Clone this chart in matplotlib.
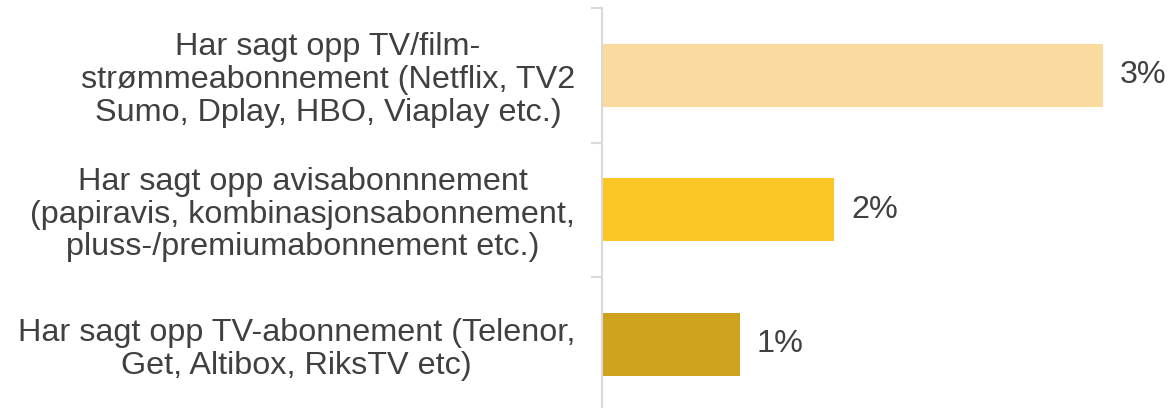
import numpy as np
import matplotlib.pyplot as plt

plt.rcParams['font.family'] = ['Liberation Sans', 'DejaVu Sans']

categories = [
    "Har sagt opp TV/film-\nstrømmeabonnement (Netflix, TV2\nSumo, Dplay, HBO, Viaplay etc.)",
    "Har sagt opp avisabonnnement\n(papiravis, kombinasjonsabonnement,\npluss-/premiumabonnement etc.)",
    "Har sagt opp TV-abonnement (Telenor,\nGet, Altibox, RiksTV etc)",
]
values = [3.3, 1.53, 0.91]
value_labels = ["3%", "2%", "1%"]
colors = ["#FADA9E", "#F9C623", "#CFA21E"]

text_color = "#404040"
axis_color = "#D9D9D9"
fs = 23.3

fig = plt.figure(figsize=(11.72, 4.08), dpi=100)
ax = fig.add_axes([0.5137, -0.0086, 0.4863, 0.9890])

y = np.arange(len(categories))
bars = ax.barh(y, values, height=0.47, color=colors)

for bar, lab in zip(bars, value_labels):
    ax.annotate(lab, (bar.get_width(), bar.get_y() + bar.get_height() / 2),
                xytext=(12, 0), textcoords="offset points",
                va="center", ha="left", fontsize=fs, color=text_color)

ax.set_xlim(0, 3.755)
ax.set_ylim(len(categories) - 0.5, -0.5)

ax.set_yticks(y)
ax.set_yticklabels(categories, fontsize=fs, color=text_color,
                   multialignment="center", linespacing=1.12)
ax.set_yticks([-0.5, 0.5, 1.5], minor=True)
ax.tick_params(axis="y", which="major", length=0, pad=19.5)
ax.tick_params(axis="y", which="minor", length=8, width=1.5, color=axis_color)
ax.set_xticks([])

for s in ["top", "right", "bottom"]:
    ax.spines[s].set_visible(False)
ax.spines["left"].set_color(axis_color)
ax.spines["left"].set_linewidth(1.5)

fig.savefig("out.png", dpi=100)
